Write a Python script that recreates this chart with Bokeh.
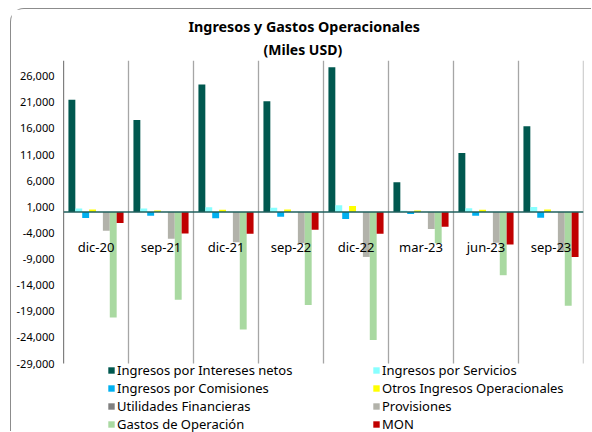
from bokeh.plotting import figure
from bokeh.models import (ColumnDataSource, Range1d, FixedTicker, NumeralTickFormatter,
                          Span, Legend, LegendItem, Title)
from bokeh.core.properties import value
from bokeh.transform import dodge
from bokeh.embed import file_html
from bokeh.resources import INLINE

categories = ["dic-20", "sep-21", "dic-21", "sep-22", "dic-22", "mar-23", "jun-23", "sep-23"]

intereses = [21500, 17600, 24400, 21200, 27700, 5700, 11300, 16400]
servicios = [650, 650, 900, 830, 1270, 250, 700, 950]
comisiones = [-1150, -700, -1200, -900, -1340, -400, -700, -1080]
otros = [500, 300, 450, 500, 1150, 300, 450, 500]
utilidades = [0, 0, 0, 0, 0, 0, 0, 0]
provisiones = [-3600, -5100, -5800, -6000, -8600, -3250, -5900, -7600]
gastos = [-20200, -16800, -22500, -17800, -24500, -6000, -12100, -17950]
mon = [-2100, -4100, -4150, -3400, -4150, -2800, -6200, -8600]

series_names = ["Ingresos por Intereses netos", "Ingresos por Servicios",
                "Ingresos por Comisiones", "Otros Ingresos Operacionales",
                "Utilidades Financieras", "Provisiones",
                "Gastos de Operación", "MON"]
series_values = [intereses, servicios, comisiones, otros, utilidades, provisiones, gastos, mon]
colors = ["#00584F", "#88FFFF", "#00B0F0", "#FFFF00", "#808080", "#B2B2AA", "#A9D9A1", "#C00000"]

title_text = "Ingresos y Gastos Operacionales"
subtitle_text = "(Miles USD)"

y_ticks = list(range(-29000, 26001, 5000))
y_min, y_max = -29000, 29000

FONT = "Noto Sans"

# layout geometry (pixels)
W, H = 581, 423
border_left, border_right, border_top = 52, 9, 51
axis_px = 303            # height of the value-axis area
extra_px = H - border_top - axis_px   # legend area below the axis, inside the frame
y_low = y_min - extra_px * (y_max - y_min) / axis_px

p = figure(x_range=categories, y_range=Range1d(y_low, y_max), title=None,
           width=W, height=H, output_backend="svg", toolbar_location=None,
           x_axis_location=None,
           min_border_left=border_left, min_border_right=border_right,
           min_border_top=border_top, min_border_bottom=0)

sub = Title(text=subtitle_text, align="left", offset=200, text_font=FONT,
            text_font_size="14px", text_font_style="bold", text_color="#000000",
            standoff=4)
main = Title(text=title_text, align="left", offset=125, text_font=FONT,
             text_font_size="14.3px", text_font_style="bold", text_color="#000000",
             standoff=0)
p.add_layout(sub, "above")
p.add_layout(main, "above")

p.outline_line_color = None
p.xgrid.grid_line_color = None
p.ygrid.grid_line_color = None
p.background_fill_color = "white"
p.border_fill_color = "white"

src = {"cat": categories}
for i, vals in enumerate(series_values):
    src["s%d" % i] = vals
source = ColumnDataSource(src)

# category separators and value-axis line
nc = len(categories)
bounds = list(range(nc + 1))
p.segment(x0=bounds, x1=bounds, y0=[y_min] * (nc + 1), y1=[y_max] * (nc + 1),
          line_color=["#000000"] + ["#A6A6A6"] * nc, line_width=[1.2] + [1.3] * nc)

n = len(series_values)
bw = 0.106
items = []
for i in range(n):
    off = (i - (n - 1) / 2) * bw
    r = p.vbar(x=dodge("cat", off, range=p.x_range), top="s%d" % i, bottom=0,
               width=bw, source=source, fill_color=colors[i], line_color=None)
    items.append(LegendItem(label=series_names[i], renderers=[r]))

# zero line (category axis)
p.add_layout(Span(location=0, dimension="width", line_color="#1F5F5C", line_width=1.5))

# category labels just below the zero line
p.text(x=categories, y=[0] * nc, text=categories, y_offset=35,
       text_align="center", text_baseline="middle",
       text_font=value(FONT), text_font_size="13px", text_color="#000000")

# y axis
p.yaxis.ticker = FixedTicker(ticks=y_ticks)
p.yaxis.formatter = NumeralTickFormatter(format="0,0")
p.yaxis.major_tick_out = 0
p.yaxis.major_tick_in = 0
p.yaxis.minor_tick_line_color = None
p.yaxis.axis_line_color = None
p.yaxis.major_label_standoff = 9
p.yaxis.major_label_text_font = FONT
p.yaxis.major_label_text_font_size = "11px"
p.yaxis.major_label_text_color = "#000000"

# legend: two columns, filled column-wise, so order items to read row-wise
order = [i for i in range(0, n, 2)] + [i for i in range(1, n, 2)]
legend = Legend(items=[items[i] for i in order], ncols=2, location=(44, -1),
                glyph_width=8, glyph_height=8, label_standoff=2,
                label_width=255, label_height=13, spacing=-2, padding=0, margin=0,
                label_text_font=FONT, label_text_font_size="13px",
                label_text_color="#000000", border_line_color=None,
                background_fill_alpha=0)
p.add_layout(legend, "center")

p.styles = {"border-top": "1px solid #8C8C8C", "border-left": "1px solid #8C8C8C",
            "border-top-left-radius": "14px", "margin-left": "10px", "margin-top": "8px"}

open("out.html", "w").write(file_html(p, INLINE))
